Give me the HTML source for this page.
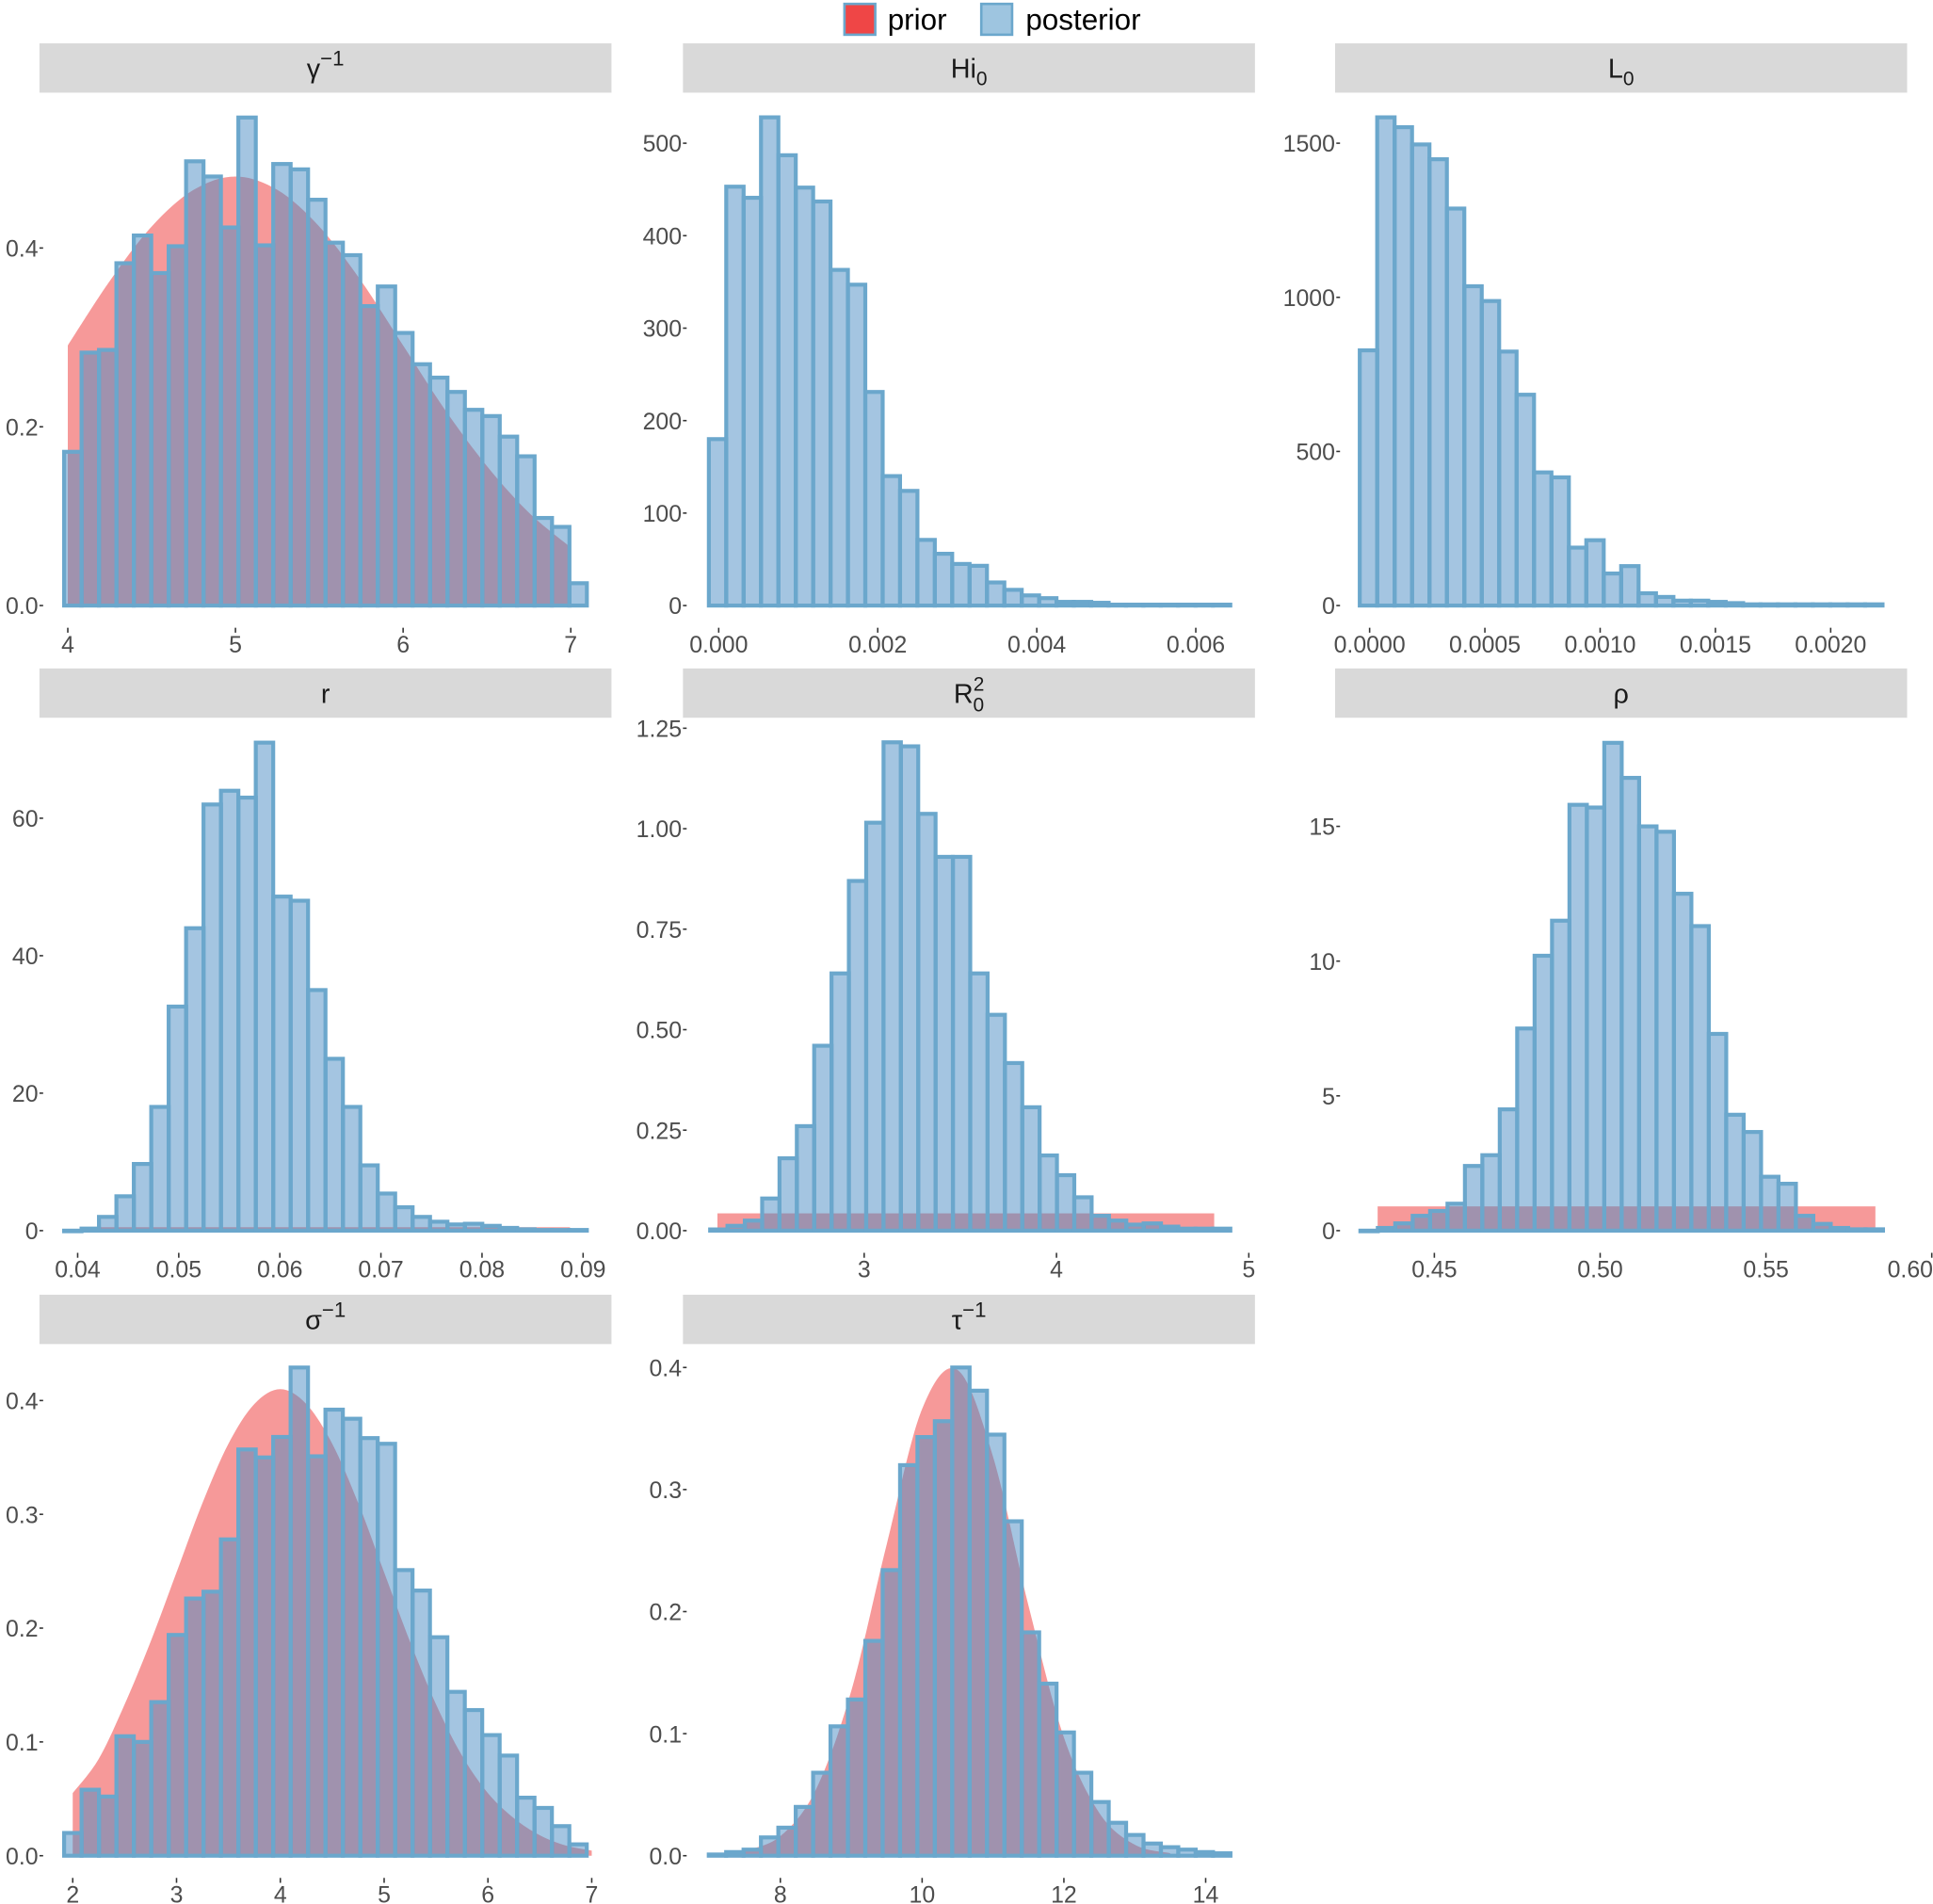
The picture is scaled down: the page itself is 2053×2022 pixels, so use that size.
<!DOCTYPE html>
<html><head><meta charset="utf-8">
<style>
html,body{margin:0;padding:0;background:#fff;}
svg{display:block;}
text{font-family:"Liberation Sans",sans-serif;}
</style></head>
<body>
<svg id="chart" width="2053" height="2022" viewBox="0 0 1568 1544" xmlns="http://www.w3.org/2000/svg">
<g>
<rect x="685" y="3" width="25" height="25" fill="#ef4646" stroke="#6ba7cc" stroke-width="2"/>
<text x="720" y="24" font-size="24" fill="#000">prior</text>
<rect x="796" y="3" width="25" height="25" fill="#9ec5e0" stroke="#6ba7cc" stroke-width="2"/>
<text x="832" y="24" font-size="24" fill="#000">posterior</text>
</g>
</svg>
<script>
// ---- data arrays ----
const gammaBins = [0.172,0.283,0.286,0.383,0.414,0.372,0.402,0.497,0.48,0.423,0.546,0.403,0.494,0.488,0.454,0.406,0.392,0.335,0.357,0.305,0.27,0.255,0.239,0.219,0.212,0.189,0.167,0.098,0.088,0.025];
const gammaPriorX = [4,4.25,4.5,4.75,5,5.25,5.5,5.75,6,6.25,6.5,6.75,7];
const gammaPriorY = [0.291,0.363,0.424,0.465,0.48,0.465,0.424,0.363,0.291,0.219,0.156,0.104,0.065];
const gammaXTicks = [4,5,6,7];
const gammaYTicks = [0,0.2,0.4];
const gammaYLabels = ["0.0","0.2","0.4"];

const hiBins = [180,453,441,528,487,452,437,363,347,231,140,124,71,56,45,43,25,17,11,8,4,4,3,1,1,1,1,1,1,1];
const hiXTicks = [0,0.002,0.004,0.006];
const hiXLabels = ["0.000","0.002","0.004","0.006"];
const hiYTicks = [0,100,200,300,400,500];

const lBins = [828,1584,1552,1496,1448,1288,1036,988,824,684,432,416,188,212,104,128,40,28,16,16,12,8,4,4,4,4,4,4,4,4];
const lXTicks = [0,0.0005,0.001,0.0015,0.002];
const lXLabels = ["0.0000","0.0005","0.0010","0.0015","0.0020"];
const lYTicks = [0,500,1000,1500];

const rBins = [0,0.3,2,5,9.7,18,32.6,44,62,64,63,71,48.6,48,35,25,18,9.5,5.4,3.4,2,1.3,0.9,1,0.7,0.4,0.2,0.1,0.1,0.1];
const rPrior = [0.0406,0.0887,0.5];
const rXTicks = [0.04,0.05,0.06,0.07,0.08,0.09];
const rXLabels = ["0.04","0.05","0.06","0.07","0.08","0.09"];
const rYTicks = [0,20,40,60];

const r0Bins = [0.003,0.012,0.025,0.08,0.18,0.26,0.46,0.64,0.87,1.015,1.215,1.205,1.037,0.93,0.93,0.64,0.537,0.417,0.307,0.187,0.138,0.083,0.037,0.025,0.015,0.018,0.01,0.005,0.005,0.005];
const r0Prior = [2.237,4.82,0.043];
const r0XTicks = [3,4,5];
const r0YTicks = [0,0.25,0.5,0.75,1,1.25];
const r0YLabels = ["0.00","0.25","0.50","0.75","1.00","1.25"];

const rhoBins = [0,0.1,0.27,0.55,0.73,1.0,2.4,2.8,4.5,7.5,10.2,11.5,15.8,15.7,18.1,16.8,15.0,14.8,12.5,11.3,7.3,4.3,3.66,2.0,1.74,0.55,0.25,0.1,0.05,0.05];
const rhoPrior = [0.4329,0.583,0.9];
const rhoXTicks = [0.45,0.5,0.55,0.6];
const rhoXLabels = ["0.45","0.50","0.55","0.60"];
const rhoYTicks = [0,5,10,15];

const sigmaBins = [0.02,0.058,0.052,0.105,0.1,0.135,0.194,0.226,0.232,0.278,0.357,0.35,0.368,0.429,0.351,0.392,0.384,0.367,0.362,0.251,0.233,0.192,0.144,0.128,0.106,0.088,0.051,0.042,0.026,0.01];
const sigmaPriorX = [2,2.25,2.5,2.75,3,3.25,3.5,3.75,4,4.25,4.5,4.75,5,5.25,5.5,5.75,6,6.25,6.5,6.75,7];
const sigmaPriorY = [0.055,0.085,0.133,0.188,0.249,0.31,0.362,0.397,0.41,0.397,0.362,0.31,0.249,0.188,0.133,0.088,0.055,0.033,0.018,0.009,0.0045];
const sigmaXTicks = [2,3,4,5,6,7];
const sigmaYTicks = [0,0.1,0.2,0.3,0.4];
const sigmaYLabels = ["0.0","0.1","0.2","0.3","0.4"];

const tauBins = [0.001,0.003,0.005,0.015,0.023,0.04,0.068,0.106,0.128,0.176,0.234,0.32,0.343,0.356,0.40,0.381,0.345,0.274,0.183,0.141,0.101,0.068,0.044,0.027,0.017,0.01,0.007,0.005,0.003,0.002];
const tauPriorX = [7.5,8,8.5,9,9.5,10,10.5,11,11.5,12,12.5,13,13.5];
const tauPriorY = [0.004,0.016,0.054,0.135,0.255,0.366,0.398,0.327,0.205,0.097,0.035,0.009,0.002];
const tauXTicks = [8,10,12,14];
const tauYTicks = [0,0.1,0.2,0.3,0.4];
const tauYLabels = ["0.0","0.1","0.2","0.3","0.4"];

// ---- drawing ----
const NS = "http://www.w3.org/2000/svg";
const svg = document.getElementById('chart');
function mk(tag, attrs, parent){
  const e = document.createElementNS(NS, tag);
  for (const k in attrs) e.setAttribute(k, attrs[k]);
  parent.appendChild(e); return e;
}
const COLS = [[32,496],[554,1018],[1083,1547]];
const ROWS = [[35,491],[542,998],[1050,1505]];

function panel(p){
  const g = mk('g', {}, svg);
  
  
  const [cx0,cx1] = COLS[p.col]; const [sy, y0] = ROWS[p.row];
  const strip = mk('rect', {x:cx0, y:sy, width:cx1-cx0, height:40, fill:'#d9d9d9'}, g);
  
  
  const title = mk('text', {x:(cx0+cx1)/2, y:sy+28, 'font-size':22, 'text-anchor':'middle', fill:'#1a1a1a'}, g);
  
  
  title.innerHTML = p.title;
  const X = v => p.xa[1] + (v - p.xa[0]) * p.xa[2];
  const Y = v => y0 - v * p.ya;
  // prior (smooth curve through points, Catmull-Rom)
  if (p.priorX) {
    const pts = p.priorX.map((v,i)=>[X(v), Y(p.priorY[i])]);
    let d = `M${pts[0][0]},${y0} L${pts[0][0]},${pts[0][1]}`;
    for (let i=0;i<pts.length-1;i++){
      const p0 = pts[Math.max(0,i-1)], p1 = pts[i], p2 = pts[i+1], p3 = pts[Math.min(pts.length-1,i+2)];
      const c1 = [p1[0]+(p2[0]-p0[0])/6, p1[1]+(p2[1]-p0[1])/6];
      const c2 = [p2[0]-(p3[0]-p1[0])/6, p2[1]-(p3[1]-p1[1])/6];
      d += ` C${c1[0]},${c1[1]} ${c2[0]},${c2[1]} ${p2[0]},${p2[1]}`;
    }
    d += ` L${pts[pts.length-1][0]},${y0} Z`;
    const pr = mk('path', {d, fill:'#ef4646', 'fill-opacity':0.55}, g);
    
    
  }
  if (p.prior) {
    const pr = mk('rect', {x:X(p.prior[0]), y:Y(p.prior[2]), width:X(p.prior[1])-X(p.prior[0]), height:y0-Y(p.prior[2]), fill:'#ef4646', 'fill-opacity':0.55}, g);
    
    
  }
  // bars
  const n = p.bins.length; const w = (p.range[1]-p.range[0])/n;
  for (let i=0;i<n;i++){
    const xl = X(p.range[0]+i*w), xr = X(p.range[0]+(i+1)*w);
    const yt = Y(p.bins[i]);
    const b = mk('rect', {x:xl, y:yt, width:xr-xl, height:Math.max(0.5,y0-yt), fill:'#4a8cc4', 'fill-opacity':0.5, stroke:'#6ba7cc', 'stroke-width':3.2}, g);
    
    
  }
  // x ticks
  p.xt.forEach((v,i)=>{
    const tx = X(v);
    mk('line', {x1:tx, x2:tx, y1:y0+18, y2:y0+22, stroke:'#333', 'stroke-width':1.2}, g);
    const over = tx + 20 > 1568;
    const t = mk('text', {x: over ? 1568 : tx, y:y0+38, 'font-size':19, 'text-anchor': over ? 'end' : 'middle', fill:'#4d4d4d'}, g);
    
    
    t.textContent = p.xl ? p.xl[i] : String(v);
  });
  p.yt.forEach((v,i)=>{
    const ty = Y(v);
    const lx = cx0 + (p.ylx || 0);
    mk('line', {x1:lx+1, x2:lx+4, y1:ty, y2:ty, stroke:'#333', 'stroke-width':1.2}, g);
    const t = mk('text', {x:lx, y:ty+7, 'font-size':19, 'text-anchor':'end', fill:'#4d4d4d'}, g);
    
    
    t.textContent = p.yl ? p.yl[i] : String(v);
  });
}

panel({name:'gamma-inv', col:0,row:0, title:'γ<tspan dy="-10" font-size="17">−1</tspan>',
  xa:[4,55,136], ya:725, range:[3.978,7.096], bins:gammaBins, priorX:gammaPriorX, priorY:gammaPriorY,
  xt:gammaXTicks, yt:gammaYTicks, yl:gammaYLabels, ylx:-1});
panel({name:'hi0', col:1,row:0, title:'Hi<tspan dy="6" font-size="16">0</tspan>',
  xa:[0,583,64500], ya:0.75, range:[-0.000124,0.006434], bins:hiBins,
  xt:hiXTicks, xl:hiXLabels, yt:hiYTicks, ylx:-1});
panel({name:'l0', col:2,row:0, title:'L<tspan dy="6" font-size="16">0</tspan>',
  xa:[0,1111,187000], ya:0.25, range:[-0.0000428,0.002225], bins:lBins,
  xt:lXTicks, xl:lXLabels, yt:lYTicks, ylx:0});
panel({name:'r', col:0,row:1, title:'r',
  xa:[0.04,63,8200], ya:5.575, range:[0.03866,0.09037], bins:rBins, prior:rPrior,
  xt:rXTicks, xl:rXLabels, yt:rYTicks, ylx:-1});
panel({name:'r0-squared', col:1,row:1, title:'R<tspan dy="-10" font-size="16">2</tspan><tspan dx="-9" dy="17" font-size="16">0</tspan>',
  xa:[3,701,156], ya:326, range:[2.199,4.904], bins:r0Bins, prior:r0Prior,
  xt:r0XTicks, yt:r0YTicks, yl:r0YLabels, ylx:-1});
panel({name:'rho', col:2,row:1, title:'ρ',
  xa:[0.5,1298,2690], ya:21.86, range:[0.4277,0.5853], bins:rhoBins, prior:rhoPrior,
  xt:rhoXTicks, xl:rhoXLabels, yt:rhoYTicks, ylx:0});
panel({name:'sigma-inv', col:0,row:2, title:'σ<tspan dy="-10" font-size="17">−1</tspan>',
  xa:[2,59,84.2], ya:923, range:[1.917,6.952], bins:sigmaBins, priorX:sigmaPriorX, priorY:sigmaPriorY,
  xt:sigmaXTicks, yt:sigmaYTicks, yl:sigmaYLabels, ylx:-1});
panel({name:'tau-inv', col:1,row:2, title:'τ<tspan dy="-10" font-size="17">−1</tspan>',
  xa:[8,633,57.5], ya:990, range:[6.99,14.35], bins:tauBins, priorX:tauPriorX, priorY:tauPriorY,
  xt:tauXTicks, yt:tauYTicks, yl:tauYLabels, ylx:-1});
</script>
</body></html>
